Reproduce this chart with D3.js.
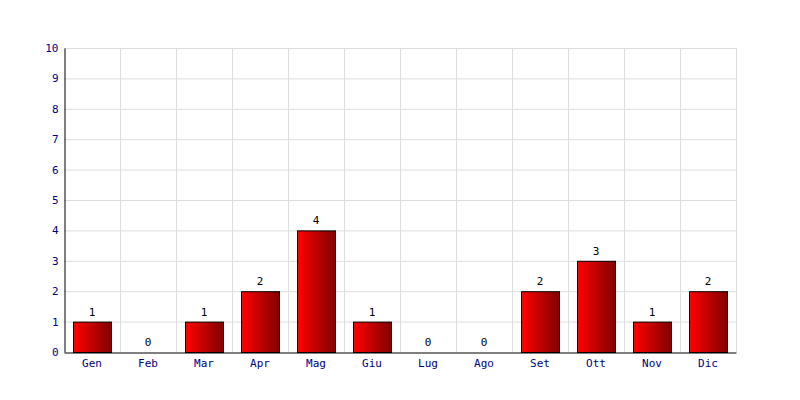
<!DOCTYPE html>
<html><head><meta charset="utf-8">
<script src="https://cdn.jsdelivr.net/npm/d3@7"></script>
<style>body{margin:0;background:#fff}svg{display:block}</style>
</head><body>
<script>
const months = ["Gen","Feb","Mar","Apr","Mag","Giu","Lug","Ago","Set","Ott","Nov","Dic"];
const values = [1,0,1,2,4,1,0,0,2,3,1,2];
const yTicks = [0,1,2,3,4,5,6,7,8,9,10];

const W=800,H=400, L=64, R=736, T=48, B=352;
const svg=d3.select("body").append("svg").attr("width",W).attr("height",H);
const defs=svg.append("defs");
const g=defs.append("linearGradient").attr("id","bg").attr("x1","0").attr("x2","1").attr("y1","0").attr("y2","0");
g.append("stop").attr("offset","0").attr("stop-color","#ff0000");
g.append("stop").attr("offset","1").attr("stop-color","#800000");

const x=d3.scaleBand().domain(months).range([L,R]).paddingInner(0).paddingOuter(0);
const y=d3.scaleLinear().domain([0,10]).range([B,T]);
const font="'DejaVu Sans Mono', monospace";
const data=values.map((v,i)=>({m:months[i],v}));

// grid
svg.append("g").selectAll("line").data(yTicks.filter(d=>d>0)).join("line")
 .attr("x1",L).attr("x2",R).attr("y1",d=>y(d)+0.5).attr("y2",d=>y(d)+0.5)
 .attr("stroke","#dddddd").attr("stroke-width",1);
svg.append("g").selectAll("line").data(months).join("line")
 .attr("x1",d=>x(d)+x.bandwidth()+0.5).attr("x2",d=>x(d)+x.bandwidth()+0.5)
 .attr("y1",T).attr("y2",B).attr("stroke","#dddddd").attr("stroke-width",1);

// bars
const bw=38;
svg.append("g").selectAll("rect").data(data.filter(d=>d.v>0)).join("rect")
 .attr("x",d=>x(d.m)+x.bandwidth()/2-bw/2+0.5).attr("y",d=>y(d.v)+0.5)
 .attr("width",bw).attr("height",d=>y(0)-y(d.v))
 .attr("fill","url(#bg)").attr("stroke","#000").attr("stroke-width",1);

// value labels
svg.append("g").selectAll("text").data(data).join("text")
 .attr("x",d=>x(d.m)+x.bandwidth()/2).attr("y",d=>y(d.v)-6)
 .attr("text-anchor","middle").attr("font-family",font).attr("font-size",11).attr("fill","#000")
 .text(d=>d.v);

// axes
const ya=d3.axisLeft(y).tickValues(yTicks).tickSize(0).tickPadding(6).tickFormat(d3.format("d"));
const yg=svg.append("g").attr("transform",`translate(${L+0.5},0)`).call(ya);
yg.select(".domain").attr("stroke","#000");
yg.selectAll("text").attr("font-family",font).attr("font-size",11).attr("fill","#000080");
const xa=d3.axisBottom(x).tickSize(0).tickPadding(7);
const xg=svg.append("g").attr("transform",`translate(0,${B+0.5})`).call(xa);
xg.select(".domain").attr("stroke","#000");
xg.selectAll("text").attr("font-family",font).attr("font-size",11).attr("fill","#000080");
</script>
</body></html>
